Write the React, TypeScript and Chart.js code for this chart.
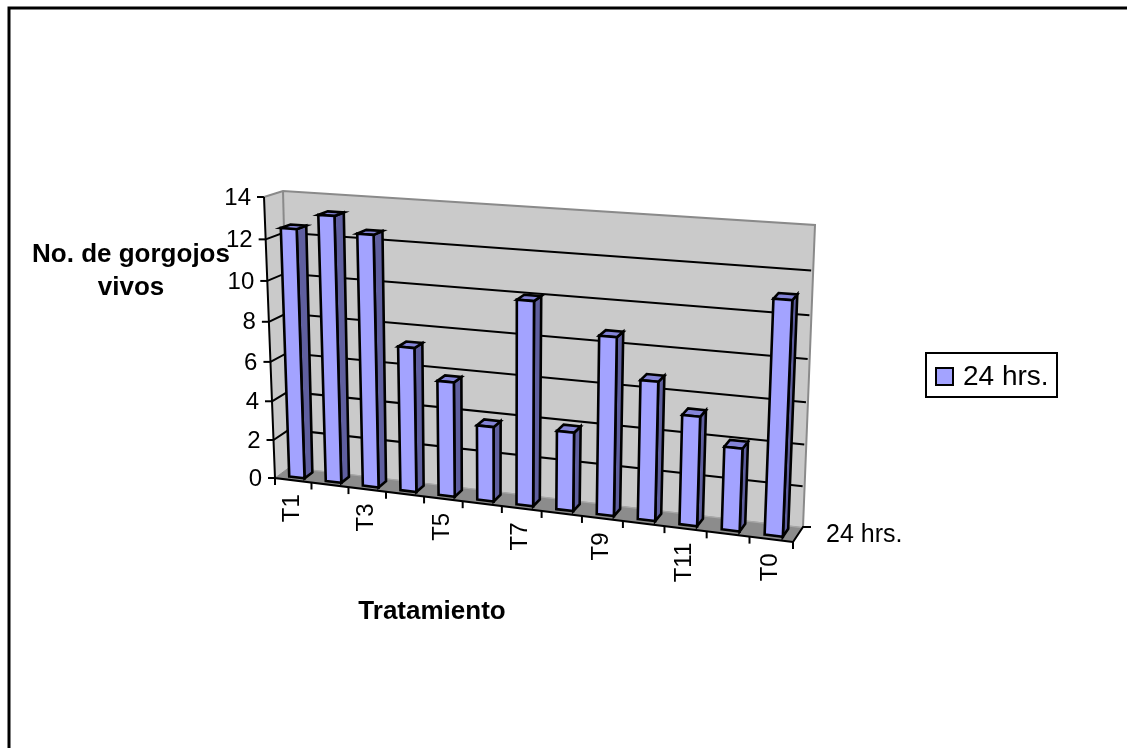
import { useEffect, useRef } from "react";
import { Chart, registerables } from "chart.js";

Chart.register(...registerables);

const categories = ["T1", "T2", "T3", "T4", "T5", "T6", "T7", "T8", "T9", "T10", "T11", "T12", "T0"];
const seriesLabel = "24 hrs.";
const liveWeevils = [12.5, 13.25, 12.5, 7.25, 5.75, 3.75, 10, 3.9, 8.65, 6.75, 5.3, 4, 11];
const yMax = 14;
const yStep = 2;
const yTitle = ["No. de gorgojos", "vivos"];
const xTitle = "Tratamiento";

const FONT = '"Liberation Sans", Arial, sans-serif';
const FACE = "#a3a3ff";
const SIDE = "#5f5f9f";
const TOP = "#8484d8";
const WALL = "#cacaca";
const FLOOR = "#8c8c8c";
const EDGE = "#8a8a8a";

type Pt = [number, number];

// Corners of the oblique box: front and back planes, bottom and top.
const FBL: Pt = [275, 478];
const FBR: Pt = [793, 542];
const FTL: Pt = [264, 197];
const FTR: Pt = [806, 235];
const BBL: Pt = [290, 467];
const BBR: Pt = [803, 527];
const BTL: Pt = [283, 191];
const BTR: Pt = [815, 225];

const mix = (a: Pt, b: Pt, t: number): Pt => [a[0] + (b[0] - a[0]) * t, a[1] + (b[1] - a[1]) * t];

// u: along the categories, v: up the value axis, d: front to back; all 0..1.
function project(u: number, v: number, d: number): Pt {
  const up = u / (1 + 0.1 * (1 - u));
  const vp = v / (1 + 0.065 * (1 - v));
  const front = mix(mix(FBL, FBR, up), mix(FTL, FTR, up), vp);
  const back = mix(mix(BBL, BBR, up), mix(BTL, BTR, up), vp);
  return mix(front, back, d);
}

function poly(ctx: CanvasRenderingContext2D, pts: Pt[], fill?: string, stroke?: string, lw = 2) {
  ctx.beginPath();
  pts.forEach((p, i) => (i ? ctx.lineTo(p[0], p[1]) : ctx.moveTo(p[0], p[1])));
  if (fill) {
    ctx.closePath();
    ctx.fillStyle = fill;
    ctx.fill();
  }
  if (stroke) {
    ctx.strokeStyle = stroke;
    ctx.lineWidth = lw;
    ctx.lineJoin = "miter";
    ctx.stroke();
  }
}

const BAR_FRONT = 0.25;
const BAR_BACK = 0.78;
const BAR_LINE = 2.6;

const box3d = {
  id: "box3d",
  // Walls, floor, gridlines and axes go underneath the columns.
  beforeDatasetsDraw(chart: any) {
    const { ctx, chartArea: a, scales } = chart;
    const yS = scales.y;
    const xS = scales.x;
    const toV = (val: number) => (a.bottom - yS.getPixelForValue(val)) / a.height;

    ctx.save();
    // Page frame
    poly(ctx, [[1127, 8], [9, 8], [9, 748]], undefined, "#000", 3);

    poly(ctx, [FBL, FTL, BTL, BBL], WALL);
    poly(ctx, [BBL, BTL, BTR, BBR], WALL);
    poly(ctx, [FBL, BBL, BBR, FBR], FLOOR);
    poly(ctx, [project(0, 0, 0.92), project(1, 0, 0.92), BBR, BBL], "#a8a8a8");

    for (const t of yS.ticks) {
      const v = toV(t.value);
      const f = project(0, v, 0);
      const bl = project(0, v, 1);
      const br = project(1, v, 1);
      if (t.value > 0 && t.value < yMax) {
        poly(ctx, [f, bl, [br[0] - 2, br[1]]], undefined, "#000", 2);
      }
      poly(ctx, [[f[0] - 7, f[1]], f], undefined, "#000", 2);
      ctx.fillStyle = "#000";
      ctx.font = `24px ${FONT}`;
      ctx.textAlign = "right";
      ctx.textBaseline = "middle";
      ctx.fillText(String(t.value), f[0] - 13, f[1] + 1);
    }

    poly(ctx, [FTL, BTL, BTR, BBR], undefined, EDGE, 2);
    poly(ctx, [BTL, BBL], undefined, EDGE, 2);
    poly(ctx, [FBL, BBL], undefined, EDGE, 1);
    poly(ctx, [FTL, FBL, FBR], undefined, "#000", 2);

    // Category ticks sit between columns, labels under every other column.
    for (let i = 0; i <= categories.length; i++) {
      const p = project(i / categories.length, 0, 0);
      poly(ctx, [p, [p[0], p[1] + 7]], undefined, "#000", 2);
    }
    categories.forEach((label, i) => {
      if (i % 2) return;
      const px = xS.getPixelForValue(i);
      const p = project((px - a.left) / a.width, 0, 0);
      ctx.save();
      ctx.translate(p[0] - 1, p[1] + 14);
      ctx.rotate(-Math.PI / 2);
      ctx.fillStyle = "#000";
      ctx.font = `24px ${FONT}`;
      ctx.textAlign = "right";
      ctx.textBaseline = "middle";
      ctx.fillText(label, 0, 0);
      ctx.restore();
    });

    // Series axis
    poly(ctx, [FBR, BBR, [BBR[0] + 8, BBR[1]]], undefined, "#000", 2);
    ctx.fillStyle = "#000";
    ctx.font = `25px ${FONT}`;
    ctx.textAlign = "left";
    ctx.textBaseline = "middle";
    ctx.fillText(seriesLabel, 826, 535);
    ctx.restore();
  },
  // Columns are built from the bar elements laid out by the scales.
  beforeDatasetDraw(chart: any, args: any) {
    const { ctx, chartArea: a } = chart;
    const bars = chart.getDatasetMeta(args.index).data;
    ctx.save();
    for (const el of bars) {
      const { x, y, base, width } = el.getProps(["x", "y", "base", "width"], true);
      const u0 = (x - width / 2 - a.left) / a.width;
      const u1 = (x + width / 2 - a.left) / a.width;
      const v0 = (a.bottom - base) / a.height;
      const v1 = (a.bottom - y) / a.height;
      const fbl = project(u0, v0, BAR_FRONT);
      const fbr = project(u1, v0, BAR_FRONT);
      const ftl = project(u0, v1, BAR_FRONT);
      const ftr = project(u1, v1, BAR_FRONT);
      const bbr = project(u1, v0, BAR_BACK);
      const btr = project(u1, v1, BAR_BACK);
      const btl = project(u0, v1, BAR_BACK);
      poly(ctx, [fbr, bbr, btr, ftr], SIDE, "#000", BAR_LINE);
      poly(ctx, [ftl, ftr, btr, btl], TOP, "#000", BAR_LINE);
      poly(ctx, [fbl, fbr, ftr, ftl], FACE, "#000", BAR_LINE);
    }
    ctx.restore();
    return false;
  },
  afterDraw(chart: any) {
    const { ctx } = chart;
    ctx.save();
    ctx.fillStyle = "#000";
    ctx.font = `bold 26px ${FONT}`;
    ctx.textAlign = "center";
    ctx.textBaseline = "middle";
    ctx.fillText(yTitle[0], 131, 255);
    ctx.fillText(yTitle[1], 131, 288);
    ctx.fillText(xTitle, 432, 612);

    // Legend
    ctx.fillStyle = "#fff";
    ctx.strokeStyle = "#000";
    ctx.lineWidth = 2;
    ctx.fillRect(926, 353, 131, 44);
    ctx.strokeRect(926, 353, 131, 44);
    ctx.fillStyle = FACE;
    ctx.fillRect(936, 368, 17, 17);
    ctx.strokeRect(936, 368, 17, 17);
    ctx.fillStyle = "#000";
    ctx.font = `28px ${FONT}`;
    ctx.textAlign = "left";
    ctx.fillText(seriesLabel, 963, 377);
    ctx.restore();
  },
};

export default function App() {
  const ref = useRef<HTMLCanvasElement>(null);
  useEffect(() => {
    const chart = new Chart(ref.current!, {
      type: "bar",
      data: {
        labels: categories,
        datasets: [
          {
            label: seriesLabel,
            data: liveWeevils,
            backgroundColor: FACE,
            borderColor: "#000",
            barPercentage: 0.42,
            categoryPercentage: 1,
          },
        ],
      },
      options: {
        animation: false,
        responsive: false,
        layout: { padding: 0 },
        scales: {
          x: { display: false, ticks: { autoSkip: false } },
          y: { display: false, min: 0, max: yMax, ticks: { stepSize: yStep } },
        },
        plugins: { legend: { display: false }, tooltip: { enabled: false } },
      },
      plugins: [box3d],
    } as any);
    return () => chart.destroy();
  }, []);
  return (
    <canvas
      ref={ref}
      width={1127}
      height={748}
      style={{ position: "fixed", left: 0, top: 0, width: 1127, height: 748, display: "block", background: "#fff" }}
    />
  );
}
